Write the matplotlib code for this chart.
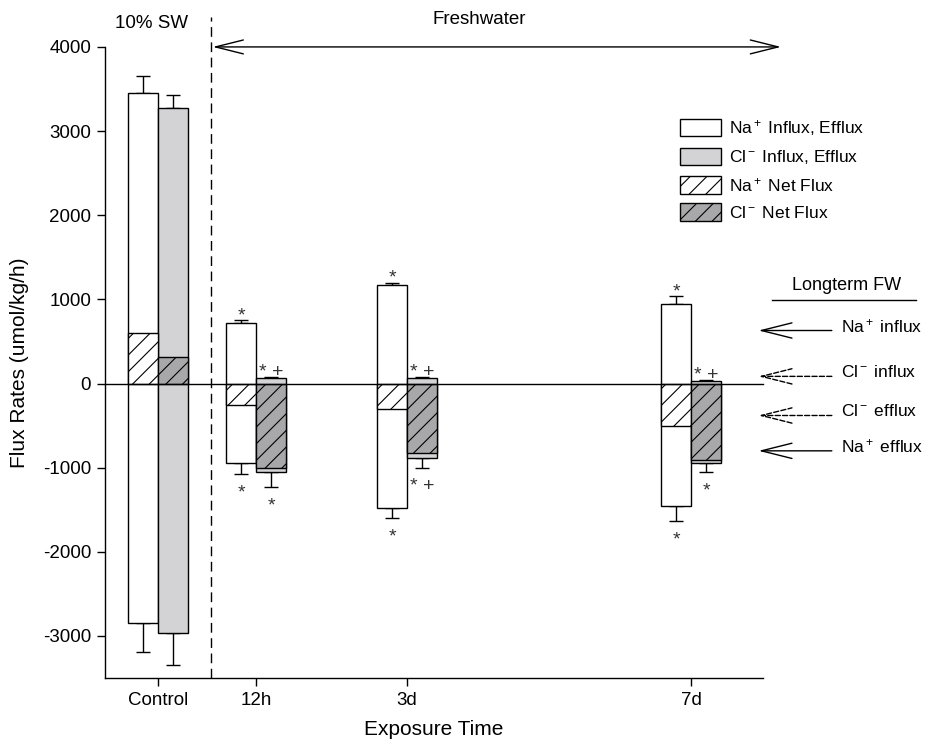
import numpy as np
import matplotlib
matplotlib.use("Agg")
import matplotlib.pyplot as plt
from matplotlib.patches import Patch

plt.rcParams['font.family'] = ['Liberation Sans', 'DejaVu Sans']
plt.rcParams['mathtext.fontset'] = 'custom'
plt.rcParams['mathtext.rm'] = 'Liberation Sans'
plt.rcParams['mathtext.it'] = 'Liberation Sans:italic'
plt.rcParams['axes.unicode_minus'] = False
plt.rcParams['hatch.linewidth'] = 0.8

# data (umol/kg/h)
groups = ['Control', '12h', '3d', '7d']
na_influx = [3450, 715, 1170, 940]
na_influx_se = [210, 40, 30, 100]
na_efflux = [-2850, -950, -1475, -1460]
na_efflux_se = [340, 120, 120, 170]
na_net = [595, -260, -300, -510]
cl_influx = [3270, 60, 60, 25]
cl_influx_se = [160, 20, 15, 15]
cl_efflux = [-2970, -1050, -880, -940]
cl_efflux_se = [370, 175, 120, 115]
cl_net = [310, -1000, -820, -910]

# significance marks
na_top_mark = ['', '*', '*', '*']
na_bot_mark = ['', '*', '*', '*']
cl_top_mark = ['', '* +', '* +', '* +']
cl_bot_mark = ['', '*', '* +', '*']

# long term freshwater reference values
lt_labels = ['Na$^+$ influx', 'Cl$^-$ influx', 'Cl$^-$ efflux', 'Na$^+$ efflux']
lt_values = [630, 85, -380, -800]
lt_dashed = [False, True, True, False]

# layout (x in bar-width units)
xpos = np.array([1.77, 5.05, 10.1, 19.6])
w = 1.0
x_switch = 3.55
light = '#d3d3d5'
dark = '#a8a8aa'

fig = plt.figure(figsize=(9.25, 7.39), dpi=100)
ax = fig.add_axes([0.1135, 0.0825, 0.7114, 0.854])

xna = xpos - w / 2
xcl = xpos + w / 2
ax.bar(xna, np.subtract(na_influx, na_efflux), bottom=na_efflux, width=w,
       color='white', edgecolor='black', linewidth=1, zorder=2)
ax.bar(xna, na_net, width=w, color='white', edgecolor='black', hatch='//',
       linewidth=1, zorder=3)
ax.bar(xcl, np.subtract(cl_influx, cl_efflux), bottom=cl_efflux, width=w,
       color=light, edgecolor='black', linewidth=1, zorder=2)
ax.bar(xcl, cl_net, width=w, color=dark, edgecolor='black', hatch='//',
       linewidth=1, zorder=3)

zeros = np.zeros(len(groups))
ekw = dict(fmt='none', ecolor='black', elinewidth=1, capsize=5, capthick=1, zorder=1)
ax.errorbar(xna, na_influx, yerr=[zeros, na_influx_se], **ekw)
ax.errorbar(xna, na_efflux, yerr=[na_efflux_se, zeros], **ekw)
ax.errorbar(xcl, cl_influx, yerr=[zeros, cl_influx_se], **ekw)
ax.errorbar(xcl, cl_efflux, yerr=[cl_efflux_se, zeros], **ekw)

skw = dict(textcoords='offset points', ha='center', va='baseline',
           fontsize=14, color='#333333')
for i in range(len(groups)):
    if na_top_mark[i]:
        ax.annotate(na_top_mark[i], (xna[i], na_influx[i] + na_influx_se[i]), xytext=(0, 0), **skw)
    if na_bot_mark[i]:
        ax.annotate(na_bot_mark[i], (xna[i], na_efflux[i] - na_efflux_se[i]), xytext=(0, -17), **skw)
    if cl_top_mark[i]:
        ax.annotate(cl_top_mark[i], (xcl[i], cl_influx[i] + cl_influx_se[i]), xytext=(0, 0), **skw)
    if cl_bot_mark[i]:
        ax.annotate(cl_bot_mark[i], (xcl[i], cl_efflux[i] - cl_efflux_se[i]), xytext=(0, -17), **skw)

# zero line, extended a bit past the axis
ax.plot([0, 22.0], [0, 0], color='black', lw=1, zorder=4, clip_on=False)

# salinity switch
ax.plot([x_switch, x_switch], [-3500, 4360], color='black', lw=1,
        dashes=(7, 4), clip_on=False, zorder=1)
ax.text(1.55, 4280, '10% SW', ha='center', va='center', fontsize=13.5)
ax.text(12.5, 4330, 'Freshwater', ha='center', va='center', fontsize=13.5)
ax.annotate('', xy=(3.6, 4000), xytext=(22.6, 4000), annotation_clip=False,
            arrowprops=dict(arrowstyle='<->, head_length=2.0, head_width=0.5',
                            mutation_scale=10, lw=1, color='black', shrinkA=0, shrinkB=0))

# long term freshwater references
ax.text(24.8, 1170, 'Longterm FW', ha='center', va='center', fontsize=13)
ax.plot([22.3, 27.1], [990, 990], color='black', lw=1, clip_on=False)
for lab, val, dsh in zip(lt_labels, lt_values, lt_dashed):
    ax.annotate('', xy=(21.85, val), xytext=(24.3, val), annotation_clip=False,
                arrowprops=dict(arrowstyle='->, head_length=2.2, head_width=0.55',
                                mutation_scale=10, lw=1, color='black',
                                linestyle='--' if dsh else '-',
                                shrinkA=0, shrinkB=0))
    ax.text(24.6, val + 50, lab, ha='left', va='center', fontsize=12.5)

ax.set_xlim(0, 22.0)
ax.set_ylim(-3500, 4000)
ax.set_xticks(xpos)
ax.set_xticklabels(groups)
ax.set_yticks(np.arange(-3000, 4001, 1000))
ax.tick_params(direction='out', length=6, width=1, labelsize=13.5, pad=4)
for s in ['top', 'right']:
    ax.spines[s].set_visible(False)
for s in ['left', 'bottom']:
    ax.spines[s].set_linewidth(1)
ax.set_xlabel('Exposure Time', fontsize=15, labelpad=8)
ax.set_ylabel('Flux Rates (umol/kg/h)', fontsize=15, labelpad=10)

handles = [Patch(facecolor='white', edgecolor='black', lw=1),
           Patch(facecolor=light, edgecolor='black', lw=1),
           Patch(facecolor='white', edgecolor='black', hatch='//', lw=1),
           Patch(facecolor=dark, edgecolor='black', hatch='//', lw=1)]
labels = ['Na$^+$ Influx, Efflux', 'Cl$^-$ Influx, Efflux',
          'Na$^+$ Net Flux', 'Cl$^-$ Net Flux']
fig.legend(handles, labels, loc='upper left', bbox_to_anchor=(0.735, 0.84),
           frameon=False, fontsize=12.5, handlelength=2.35, handleheight=1.15,
           handletextpad=0.5, labelspacing=0.55, borderpad=0, borderaxespad=0)

fig.savefig('out.png', dpi=100)
